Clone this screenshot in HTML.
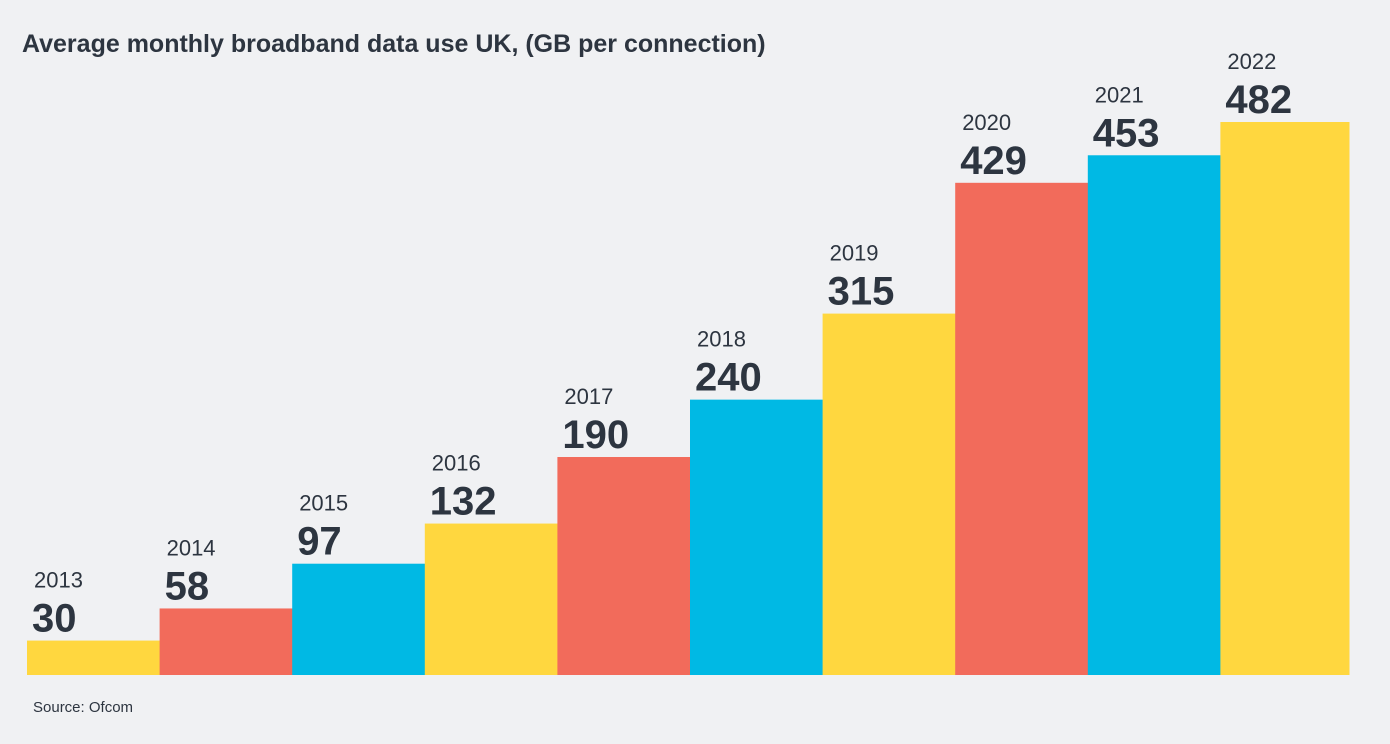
<!DOCTYPE html>
<html><head><meta charset="utf-8"><style>
body{margin:0;background:#f0f1f3;width:1390px;height:739px;overflow:hidden;font-family:"Liberation Sans",sans-serif;}
</style></head><body>
<svg width="1390" height="739">
<rect width="1390" height="739" fill="#f0f1f3"/>
<text x="22" y="52" font-size="25" font-weight="bold" fill="#2d3540">Average monthly broadband data use UK, (GB per connection)</text>
<text x="33" y="712" font-size="15" fill="#2d3540">Source: Ofcom</text>
<g id="bars"></g>
</svg>
<script>
const years=["2013","2014","2015","2016","2017","2018","2019","2020","2021","2022"];
const values=[30,58,97,132,190,240,315,429,453,482];
const colors=["#ffd73f","#f26b5b","#00b9e4"];
const x0=27,bw=132.6,base=675,scale=(675-122)/482,xEnd=1349;
const y=v=>base-v*scale;
const g=document.getElementById('bars');
const ns="http://www.w3.org/2000/svg";
years.forEach((yr,i)=>{
 const r=document.createElementNS(ns,'rect');
 
 
 const top=y(values[i]);
 const left=x0+i*bw;
 const right=Math.min(x0+(i+1)*bw,xEnd);
 r.setAttribute('x',left);r.setAttribute('y',top);
 r.setAttribute('width',right-left+0.5);r.setAttribute('height',base-top);
 r.setAttribute('fill',colors[i%3]);g.appendChild(r);
 const t=document.createElementNS(ns,'text');
 
 
 t.setAttribute('x',left+7);t.setAttribute('y',top-53);
 t.setAttribute('font-size','22');t.setAttribute('fill','#2d3540');
 t.textContent=yr;g.appendChild(t);
 const v=document.createElementNS(ns,'text');
 
 
 v.setAttribute('x',left+5);v.setAttribute('y',top-9);
 v.setAttribute('font-size','40');v.setAttribute('font-weight','bold');v.setAttribute('fill','#2d3540');
 v.textContent=values[i];g.appendChild(v);
});
</script>
</body></html>
